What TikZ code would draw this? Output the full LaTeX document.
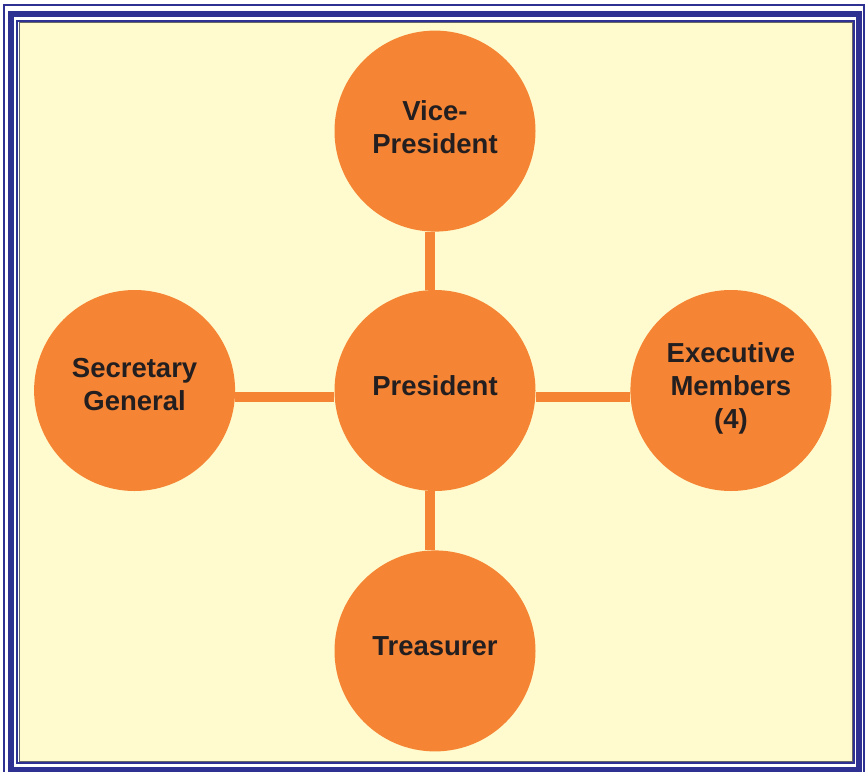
\documentclass[tikz,border=0pt]{standalone}
\usepackage{fontspec}
\setmainfont{Liberation Sans}
\usetikzlibrary{positioning}
\definecolor{frameblue}{RGB}{46,49,146}
\definecolor{panelyellow}{RGB}{255,251,206}
\definecolor{roleorange}{RGB}{245,132,52}
\definecolor{roletext}{RGB}{35,31,32}

\begin{document}
\begin{tikzpicture}[x=1pt, y=-1pt,
  role/.style={circle, fill=roleorange, minimum size=201pt, inner sep=0pt},
  rolename/.style={font=\fontsize{27.5}{33}\selectfont\bfseries, text=roletext, align=center, inner sep=0pt},
  link/.style={draw=roleorange, line width=10.5pt},
]
\useasboundingbox (0,0) rectangle (866,771);
% frame
\draw[frameblue, line width=2pt] (3.5,4.5) rectangle (863.5,776.5);
\draw[frameblue, line width=6pt] (11,14) rectangle (858.5,770);
\draw[frameblue, line width=2pt] (17.3,20.5) rectangle (853.5,762.5);
\draw[gray!80!black, line width=0.5pt, fill=panelyellow] (18.8,21.8) rectangle (852,761.2);

% circles
\node[role] (pres) at (435,390.5) {};
\node[role, above=58pt of pres] (vp) {};
\node[role, below=59pt of pres] (treas) {};
\node[role, left=99pt of pres] (sec) {};
\node[role, right=94.5pt of pres] (exec) {};

\draw[link] ([xshift=-5pt]vp.south) -- ([xshift=-5pt]pres.north);
\draw[link] ([xshift=-5pt]pres.south) -- ([xshift=-5pt]treas.north);
\draw[link] ([yshift=-6.5pt]sec.east) -- ([yshift=-6.5pt]pres.west);
\draw[link] ([yshift=-6.5pt]pres.east) -- ([yshift=-6.5pt]exec.west);

% names
\node[rolename] (pres-t) at ([yshift=4.5pt]pres.center) {President};
\node[rolename] (vp-t) at ([yshift=4pt]vp.center) {Vice-\\President};
\node[rolename] (treas-t) at ([yshift=5pt]treas.center) {Treasurer};
\node[rolename] (sec-t) at ([yshift=5.5pt]sec.center) {Secretary\\General};
\node[rolename] (exec-t) at ([yshift=2.5pt]exec.center) {Executive\\Members\\(4)};
\end{tikzpicture}
\end{document}
